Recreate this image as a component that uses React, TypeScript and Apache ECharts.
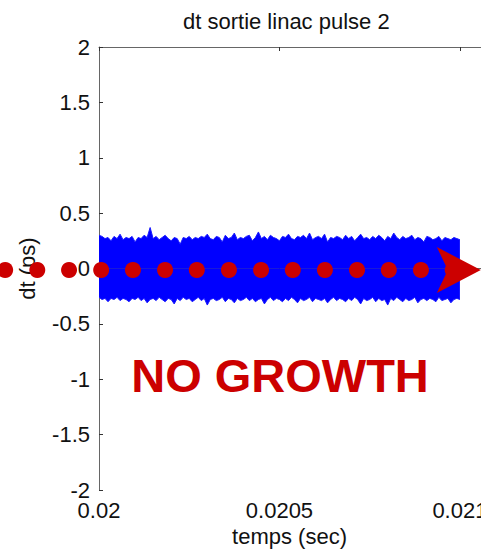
import React, { useEffect, useRef } from "react";
import * as echarts from "echarts";

const titleText = "dt sortie linac pulse 2";
const xAxisName = "temps (sec)";
const yAxisName = "dt (ps)";
const annotationText = "NO GROWTH";

const timeStart = 0.02;
const timeEnd = 0.021;

// upper envelope of the dt signal (ps)
const upperEnvelope = [
  0.30, 0.29, 0.27, 0.28, 0.25, 0.29, 0.27, 0.31, 0.26, 0.28,
  0.27, 0.29, 0.24, 0.28, 0.27, 0.30, 0.28, 0.37, 0.27, 0.29,
  0.26, 0.28, 0.30, 0.27, 0.25, 0.28, 0.27, 0.22, 0.28, 0.27,
  0.29, 0.26, 0.28, 0.27, 0.29, 0.28, 0.31, 0.27, 0.26, 0.29,
  0.28, 0.24, 0.30, 0.27, 0.28, 0.32, 0.26, 0.28, 0.27, 0.29,
  0.30, 0.25, 0.28, 0.33, 0.27, 0.29, 0.26, 0.30, 0.28, 0.27,
  0.25, 0.29, 0.28, 0.31, 0.27, 0.26, 0.29, 0.28, 0.30, 0.27,
  0.32, 0.26, 0.28, 0.29, 0.27, 0.31, 0.24, 0.28, 0.27, 0.29,
  0.28, 0.26, 0.30, 0.27, 0.29, 0.25, 0.28, 0.31, 0.27, 0.28,
  0.26, 0.29, 0.27, 0.30, 0.28, 0.25, 0.29, 0.27, 0.32, 0.28,
  0.26, 0.29, 0.27, 0.28, 0.30, 0.26, 0.28, 0.27, 0.24, 0.29,
  0.28, 0.26, 0.27, 0.29, 0.25, 0.28, 0.27, 0.26, 0.28, 0.27,
  0.26,
];

// lower envelope of the dt signal (ps)
const lowerEnvelope = [
  -0.26, -0.28, -0.27, -0.30, -0.27, -0.28, -0.26, -0.29, -0.27, -0.28,
  -0.30, -0.27, -0.28, -0.26, -0.29, -0.27, -0.31, -0.28, -0.27, -0.29,
  -0.26, -0.28, -0.30, -0.27, -0.28, -0.32, -0.27, -0.29, -0.26, -0.28,
  -0.27, -0.30, -0.28, -0.26, -0.29, -0.27, -0.33, -0.28, -0.27, -0.29,
  -0.28, -0.26, -0.30, -0.27, -0.28, -0.31, -0.27, -0.29, -0.28, -0.26,
  -0.29, -0.27, -0.30, -0.28, -0.27, -0.32, -0.28, -0.26, -0.29, -0.27,
  -0.28, -0.30, -0.27, -0.29, -0.26, -0.28, -0.31, -0.27, -0.29, -0.28,
  -0.26, -0.30, -0.27, -0.28, -0.29, -0.27, -0.31, -0.28, -0.26, -0.29,
  -0.27, -0.28, -0.30, -0.27, -0.29, -0.26, -0.28, -0.32, -0.27, -0.29,
  -0.28, -0.26, -0.30, -0.27, -0.29, -0.28, -0.33, -0.27, -0.29, -0.26,
  -0.28, -0.30, -0.27, -0.29, -0.28, -0.26, -0.31, -0.28, -0.27, -0.29,
  -0.27, -0.28, -0.30, -0.26, -0.29, -0.28, -0.27, -0.31, -0.28, -0.27,
  -0.28,
];

// red dotted "trend" marker line
const dotTimes = [
  0.01974, 0.019829, 0.019917, 0.020006, 0.020094, 0.020183, 0.020271,
  0.02036, 0.020449, 0.020537, 0.020626, 0.020715, 0.020803, 0.020892,
  0.02098,
];
const dotLevel = -0.014;
const arrowTime = 0.020997;

const yTicks = [-2, -1.5, -1, -0.5, 0, 0.5, 1, 1.5, 2];
const xTickStep = 0.0005;
const xAxisMax = 0.0211;

const FONT = "'Liberation Sans', Arial, Helvetica, sans-serif";

export default function App() {
  const ref = useRef<HTMLDivElement>(null);

  useEffect(() => {
    if (!ref.current) return;
    const chart = echarts.init(ref.current, undefined, { renderer: "svg" });
    const n = upperEnvelope.length;
    const step = (timeEnd - timeStart) / (n - 1);
    const upper = upperEnvelope.map((v, i) => [timeStart + i * step, v]);
    const lower = lowerEnvelope.map((v, i) => [timeStart + i * step, v]);

    const axisColor = "#666666";

    chart.setOption({
      animation: false,
      backgroundColor: "#ffffff",
      title: {
        text: titleText,
        left: 183,
        top: 10,
        padding: 0,
        textStyle: { fontFamily: FONT, fontSize: 22, fontWeight: "normal", color: "#111" },
      },
      grid: {
        left: 99,
        width: 397,
        top: 47,
        height: 443,
        containLabel: false,
        outerBoundsMode: "none",
      },
      xAxis: [
        {
          type: "value",
          position: "bottom",
          min: timeStart,
          max: xAxisMax,
          interval: xTickStep,
          name: xAxisName,
          nameLocation: "middle",
          nameGap: 33,
          nameTextStyle: { fontFamily: FONT, fontSize: 22, color: "#111", padding: [0, 16, 0, 0] },
          axisLine: { show: true, lineStyle: { color: axisColor, width: 1 } },
          axisTick: { show: true, inside: true, length: 4, lineStyle: { color: "#333" } },
          axisLabel: {
            fontFamily: FONT,
            fontSize: 22,
            lineHeight: 16,
            color: "#111",
            margin: 12,
            hideOverlap: false,
            formatter: (v: number) => (Math.abs(v - xAxisMax) < 1e-9 ? "" : String(+v.toFixed(4))),
          },
          splitLine: { show: false },
        },
        {
          type: "value",
          position: "top",
          min: timeStart,
          max: xAxisMax,
          interval: xTickStep,
          axisLine: { show: true, lineStyle: { color: axisColor, width: 1 } },
          axisTick: { show: true, inside: true, length: 4, lineStyle: { color: "#333" } },
          axisLabel: { show: false },
          splitLine: { show: false },
        },
      ],
      yAxis: {
        type: "value",
        min: yTicks[0],
        max: yTicks[yTicks.length - 1],
        interval: 0.5,
        name: yAxisName,
        nameLocation: "middle",
        nameGap: 61,
        nameRotate: 90,
        nameTextStyle: { fontFamily: FONT, fontSize: 22, color: "#111" },
        axisLine: { show: true, lineStyle: { color: axisColor, width: 1 } },
        axisTick: { show: true, inside: true, length: 4, lineStyle: { color: "#333" } },
        axisLabel: { fontFamily: FONT, fontSize: 22, lineHeight: 16, color: "#111", margin: 9 },
        splitLine: { show: false },
      },
      series: [
        {
          type: "line",
          data: upper,
          symbol: "none",
          lineStyle: { color: "#1a1aff", width: 1 },
          areaStyle: { color: "#0000ff", opacity: 1 },
          z: 2,
        },
        {
          type: "line",
          data: lower,
          symbol: "none",
          lineStyle: { color: "#1a1aff", width: 1 },
          areaStyle: { color: "#0000ff", opacity: 1 },
          z: 2,
        },
        {
          type: "scatter",
          data: dotTimes.map((t) => [t, dotLevel]),
          symbol: "circle",
          symbolSize: 16,
          itemStyle: { color: "#cc0000", opacity: 1 },
          clip: false,
          z: 5,
        },
        {
          type: "scatter",
          data: [[arrowTime, dotLevel]],
          symbol: "path://M0,0L44,23L0,46L11,23Z",
          symbolSize: [44, 46],
          symbolKeepAspect: false,
          itemStyle: { color: "#cc0000", opacity: 1 },
          clip: false,
          z: 6,
        },
      ],
      graphic: [
        {
          type: "text",
          x: 280,
          y: 375.5,
          z: 10,
          style: {
            text: annotationText,
            fontFamily: FONT,
            fontSize: 47,
            fontWeight: "bold",
            fill: "#cc0000",
            textAlign: "center",
            textVerticalAlign: "middle",
          },
        },
      ],
    });
    return () => chart.dispose();
  }, []);

  return (
    <div
      ref={ref}
      style={{ position: "fixed", left: 0, top: 0, width: 481, height: 553, background: "#fff" }}
    />
  );
}
